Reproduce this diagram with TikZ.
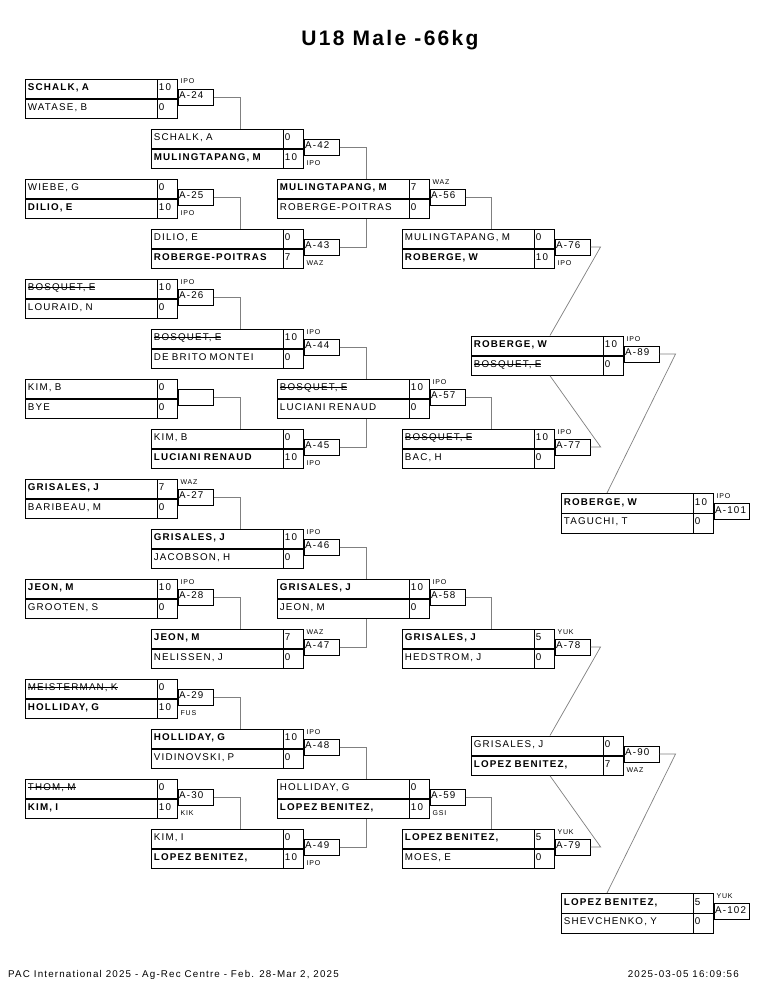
\documentclass[tikz,border=0pt]{standalone}
\usepackage{fontspec}
\setmainfont{Liberation Sans}
\newfontfamily\bxf[LetterSpace=12]{Liberation Sans}
\newfontfamily\ttlf[LetterSpace=11]{Liberation Sans}
\newsavebox\strkbox
\newcommand\strk[1]{\sbox\strkbox{#1}\rlap{\rule[2.5pt]{\wd\strkbox}{0.6pt}}\usebox\strkbox}
\tikzset{
  namecell/.style={draw, line width=0.8pt, anchor=north west, minimum width=132pt, minimum height=19.75pt,
    text width=127pt, inner xsep=2.5pt, inner ysep=0pt, align=left, text height=6.5pt, text depth=3pt,
    font=\bxf\fontsize{9.8}{11}\selectfont},
  scorecell/.style={draw, line width=0.8pt, anchor=north west, minimum width=20pt, minimum height=19.75pt,
    text width=17pt, inner xsep=1.5pt, inner ysep=0pt, align=left, text height=6.5pt, text depth=3pt,
    font=\bxf\fontsize{9.8}{11}\selectfont},
  labcell/.style={draw, line width=0.8pt, anchor=north west, minimum width=35pt, minimum height=16pt,
    text width=33pt, inner xsep=1pt, inner ysep=0pt, align=left, text height=6.5pt, text depth=2.5pt,
    font=\bxf\fontsize{9.8}{11}\selectfont},
  wtext/.style={inner sep=0pt, font=\bxf\fontsize{7}{8}\selectfont},
  sepline/.style={line width=1.3pt},
  conn/.style={draw=black!50, line width=0.7pt},
}
\newcommand{\bout}[7]{%
  \node[namecell] (#1n1) at (#2,#3) {#4};
  \node[namecell] (#1n2) at (#2,#3+19.75) {#6};
  \node[scorecell] (#1s1) at (#2+132,#3) {#5};
  \node[scorecell] (#1s2) at (#2+132,#3+19.75) {#7};
  \draw[sepline] (#1n1.south west) -- (#1s1.south east);
}
\newcommand{\lab}[4]{%
  \node[labcell] (#1l) at ([yshift=-10pt]#1s1.north east) {#2};
  \ifx t#4
    \node[wtext, anchor=base west] (#1w) at ([xshift=2.5pt,yshift=4.5pt]#1l.north west) {#3};
  \else
    \node[wtext, anchor=base west] (#1w) at ([xshift=2.5pt,yshift=-10.5pt]#1l.south west) {#3};
  \fi
}
\begin{document}
\begin{tikzpicture}[x=1pt,y=-1pt]
\fill[white] (0,0) rectangle (765,990);
\useasboundingbox (0,0) rectangle (765,990);
\node[font=\ttlf\bfseries\fontsize{21}{25}\selectfont, anchor=base, inner sep=0pt] (title) at (390,45.5) {U18 Male -66kg};
% Round 1
\bout{m24}{25}{78.5}{\textbf{SCHALK, A}}{10}{WATASE, B}{0}
\lab{m24}{A-24}{IPO}{t}
\bout{m25}{25}{178.5}{WIEBE, G}{0}{\textbf{DILIO, E}}{10}
\lab{m25}{A-25}{IPO}{b}
\bout{m26}{25}{278.5}{\strk{BOSQUET, E}}{10}{LOURAID, N}{0}
\lab{m26}{A-26}{IPO}{t}
\bout{mb}{25}{378.5}{KIM, B}{0}{BYE}{0}
\node[labcell] (mbl) at ([yshift=-10pt]mbs1.north east) {};
\bout{m27}{25}{478.5}{\textbf{GRISALES, J}}{7}{BARIBEAU, M}{0}
\lab{m27}{A-27}{WAZ}{t}
\bout{m28}{25}{578.5}{\textbf{JEON, M}}{10}{GROOTEN, S}{0}
\lab{m28}{A-28}{IPO}{t}
\bout{m29}{25}{678.5}{\strk{MEISTERMAN, K}}{0}{\textbf{HOLLIDAY, G}}{10}
\lab{m29}{A-29}{FUS}{b}
\bout{m30}{25}{778.5}{\strk{THOM, M}}{0}{\textbf{KIM, I}}{10}
\lab{m30}{A-30}{KIK}{b}
% Round 2
\bout{m42}{151}{128.5}{SCHALK, A}{0}{\textbf{MULINGTAPANG, M}}{10}
\lab{m42}{A-42}{IPO}{b}
\bout{m43}{151}{228.5}{DILIO, E}{0}{\textbf{ROBERGE-POITRAS}}{7}
\lab{m43}{A-43}{WAZ}{b}
\bout{m44}{151}{328.5}{\strk{BOSQUET, E}}{10}{DE BRITO MONTEI}{0}
\lab{m44}{A-44}{IPO}{t}
\bout{m45}{151}{428.5}{KIM, B}{0}{\textbf{LUCIANI RENAUD}}{10}
\lab{m45}{A-45}{IPO}{b}
\bout{m46}{151}{528.5}{\textbf{GRISALES, J}}{10}{JACOBSON, H}{0}
\lab{m46}{A-46}{IPO}{t}
\bout{m47}{151}{628.5}{\textbf{JEON, M}}{7}{NELISSEN, J}{0}
\lab{m47}{A-47}{WAZ}{t}
\bout{m48}{151}{728.5}{\textbf{HOLLIDAY, G}}{10}{VIDINOVSKI, P}{0}
\lab{m48}{A-48}{IPO}{t}
\bout{m49}{151}{828.5}{KIM, I}{0}{\textbf{LOPEZ BENITEZ,}}{10}
\lab{m49}{A-49}{IPO}{b}
% Round 3
\bout{m56}{277}{178.5}{\textbf{MULINGTAPANG, M}}{7}{ROBERGE-POITRAS}{0}
\lab{m56}{A-56}{WAZ}{t}
\bout{m57}{277}{378.5}{\strk{BOSQUET, E}}{10}{LUCIANI RENAUD}{0}
\lab{m57}{A-57}{IPO}{t}
\bout{m58}{277}{578.5}{\textbf{GRISALES, J}}{10}{JEON, M}{0}
\lab{m58}{A-58}{IPO}{t}
\bout{m59}{277}{778.5}{HOLLIDAY, G}{0}{\textbf{LOPEZ BENITEZ,}}{10}
\lab{m59}{A-59}{GSI}{b}
% Round 4
\bout{m76}{402}{228.5}{MULINGTAPANG, M}{0}{\textbf{ROBERGE, W}}{10}
\lab{m76}{A-76}{IPO}{b}
\bout{m77}{402}{428.5}{\strk{BOSQUET, E}}{10}{BAC, H}{0}
\lab{m77}{A-77}{IPO}{t}
\bout{m78}{402}{628.5}{\textbf{GRISALES, J}}{5}{HEDSTROM, J}{0}
\lab{m78}{A-78}{YUK}{t}
\bout{m79}{402}{828.5}{\textbf{LOPEZ BENITEZ,}}{5}{MOES, E}{0}
\lab{m79}{A-79}{YUK}{t}
% Round 5
\bout{m89}{471}{335.5}{\textbf{ROBERGE, W}}{10}{\strk{BOSQUET, E}}{0}
\lab{m89}{A-89}{IPO}{t}
\bout{m90}{471}{735.5}{GRISALES, J}{0}{\textbf{LOPEZ BENITEZ,}}{7}
\lab{m90}{A-90}{WAZ}{b}
% Round 6
\bout{m101}{561}{493}{\textbf{ROBERGE, W}}{10}{TAGUCHI, T}{0}
\lab{m101}{A-101}{IPO}{t}
\bout{m102}{561}{893}{\textbf{LOPEZ BENITEZ,}}{5}{SHEVCHENKO, Y}{0}
\lab{m102}{A-102}{YUK}{t}
% Connectors round 1 -> 2
\draw[conn] (m24l.east) -| ([xshift=89pt]m42n1.north west);
\draw[conn] (m25l.east) -| ([xshift=89pt]m43n1.north west);
\draw[conn] (m26l.east) -| ([xshift=89pt]m44n1.north west);
\draw[conn] (mbl.east) -| ([xshift=89pt]m45n1.north west);
\draw[conn] (m27l.east) -| ([xshift=89pt]m46n1.north west);
\draw[conn] (m28l.east) -| ([xshift=89pt]m47n1.north west);
\draw[conn] (m29l.east) -| ([xshift=89pt]m48n1.north west);
\draw[conn] (m30l.east) -| ([xshift=89pt]m49n1.north west);
% round 2 -> 3
\draw[conn] (m42l.east) -| ([xshift=89pt]m56n1.north west);
\draw[conn] (m43l.east) -| ([xshift=89pt]m56n2.south west);
\draw[conn] (m44l.east) -| ([xshift=89pt]m57n1.north west);
\draw[conn] (m45l.east) -| ([xshift=89pt]m57n2.south west);
\draw[conn] (m46l.east) -| ([xshift=89pt]m58n1.north west);
\draw[conn] (m47l.east) -| ([xshift=89pt]m58n2.south west);
\draw[conn] (m48l.east) -| ([xshift=89pt]m59n1.north west);
\draw[conn] (m49l.east) -| ([xshift=89pt]m59n2.south west);
% round 3 -> 4
\draw[conn] (m56l.east) -| ([xshift=89pt]m76n1.north west);
\draw[conn] (m57l.east) -| ([xshift=89pt]m77n1.north west);
\draw[conn] (m58l.east) -| ([xshift=89pt]m78n1.north west);
\draw[conn] (m59l.east) -| ([xshift=89pt]m79n1.north west);
% round 4 -> 5
\draw[conn] (m76l.east) -- ++(10,0) -- ([xshift=79pt]m89n1.north west);
\draw[conn] (m77l.east) -- ++(10,0) -- ([xshift=79pt]m89n2.south west);
\draw[conn] (m78l.east) -- ++(10,0) -- ([xshift=79pt]m90n1.north west);
\draw[conn] (m79l.east) -- ++(10,0) -- ([xshift=79pt]m90n2.south west);
% round 5 -> 6
\draw[conn] (m89l.east) -- ++(16,0) -- ([xshift=46pt]m101n1.north west);
\draw[conn] (m90l.east) -- ++(16,0) -- ([xshift=46pt]m102n1.north west);
% footer
\node[font=\bxf\fontsize{9.8}{11}\selectfont, anchor=base west, inner sep=0pt] (foot) at (8,977.5) {PAC International 2025 - Ag-Rec Centre - Feb. 28-Mar 2, 2025};
\node[font=\bxf\fontsize{9.8}{11}\selectfont, anchor=base east, inner sep=0pt] (stamp) at (739,977.5) {2025-03-05 16:09:56};
\end{tikzpicture}
\end{document}
